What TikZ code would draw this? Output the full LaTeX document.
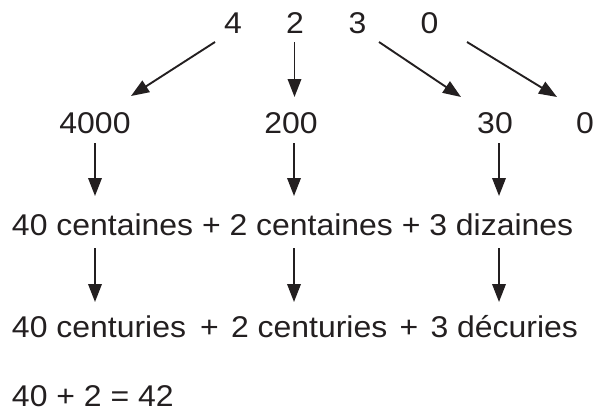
\documentclass[tikz,border=0pt]{standalone}
\usepackage{fontspec}
\setmainfont{Liberation Sans}[FakeStretch=1.065]
\usetikzlibrary{arrows.meta,calc}
\definecolor{ink}{RGB}{35,31,32}
\tikzset{
  txt/.style={inner sep=0pt, outer sep=0pt, text=ink, font=\fontsize{30}{36}\selectfont, text height=21.5pt, text depth=0pt},
  arr/.style={draw=ink, line width=1.9pt, -{Triangle[length=18pt,width=13.5pt]}}
}
\begin{document}
\begin{tikzpicture}[x=1pt,y=1pt]
\useasboundingbox (0,0) rectangle (593,-410);
% top row
\node[txt,anchor=base] (t4) at (233,-33) {4};
\node[txt,anchor=base] (t2) at (295,-33) {2};
\node[txt,anchor=base] (t3) at (357.5,-33) {3};
\node[txt,anchor=base] (t0) at (429.5,-33) {0};
% second row
\node[txt,anchor=base] (n4000) at (95,-133) {4000};
\node[txt,anchor=base] (n200) at (291,-133) {200};
\node[txt,anchor=base] (n30) at (495,-133) {30};
\node[txt,anchor=base] (n0) at (585,-133) {0};
% third row
\node[txt,anchor=base west] (r3) at (12,-235) {40 centaines + 2 centaines + 3 dizaines};
% fourth row
\node[txt,anchor=base west] (r4a) at (12,-337) {40 centuries};
\node[txt,anchor=base] (p1) at (209.5,-337) {+};
\node[txt,anchor=base west] (r4b) at (231,-337) {2 centuries};
\node[txt,anchor=base] (p2) at (409,-337) {+};
\node[txt,anchor=base east] (r4c) at (578,-337) {3 décuries};
% fifth row
\node[txt,anchor=base west] (r5) at (12,-406) {40 + 2 = 42};
% arrows top
\draw[arr] ($(t4.south)+(-18,-9)$) -- ($(n4000.north)+(36,15.5)$);
\draw[arr] ($(t2.south)+(-0.5,-9)$) -- ($(t2.south |- n200.north)+(-0.5,14.5)$);
\draw[arr] ($(t3.south)+(21.5,-9)$) -- ($(n30.north)+(-34,14.5)$);
\draw[arr] ($(t0.south)+(37.5,-9)$) -- ($(n0.north)+(-28,14.5)$);
% arrows second
\draw[arr] ($(n4000.south)+(0,-10)$) -- ($(n4000.south |- r3.north)+(0,17.5)$);
\draw[arr] ($(n200.south)+(3,-10)$) -- ($(n200.south |- r3.north)+(3,17.5)$);
\draw[arr] ($(n30.south)+(4,-10)$) -- ($(n30.south |- r3.north)+(4,17.5)$);
% arrows third
\draw[arr] ($(n4000.south |- r3.south)+(0,-13)$) -- ($(n4000.south |- r4a.north)+(0,13.5)$);
\draw[arr] ($(n200.south |- r3.south)+(3,-13)$) -- ($(n200.south |- r4b.north)+(3,13.5)$);
\draw[arr] ($(n30.south |- r3.south)+(4,-13)$) -- ($(n30.south |- r4c.north)+(4,13.5)$);
\end{tikzpicture}
\end{document}
